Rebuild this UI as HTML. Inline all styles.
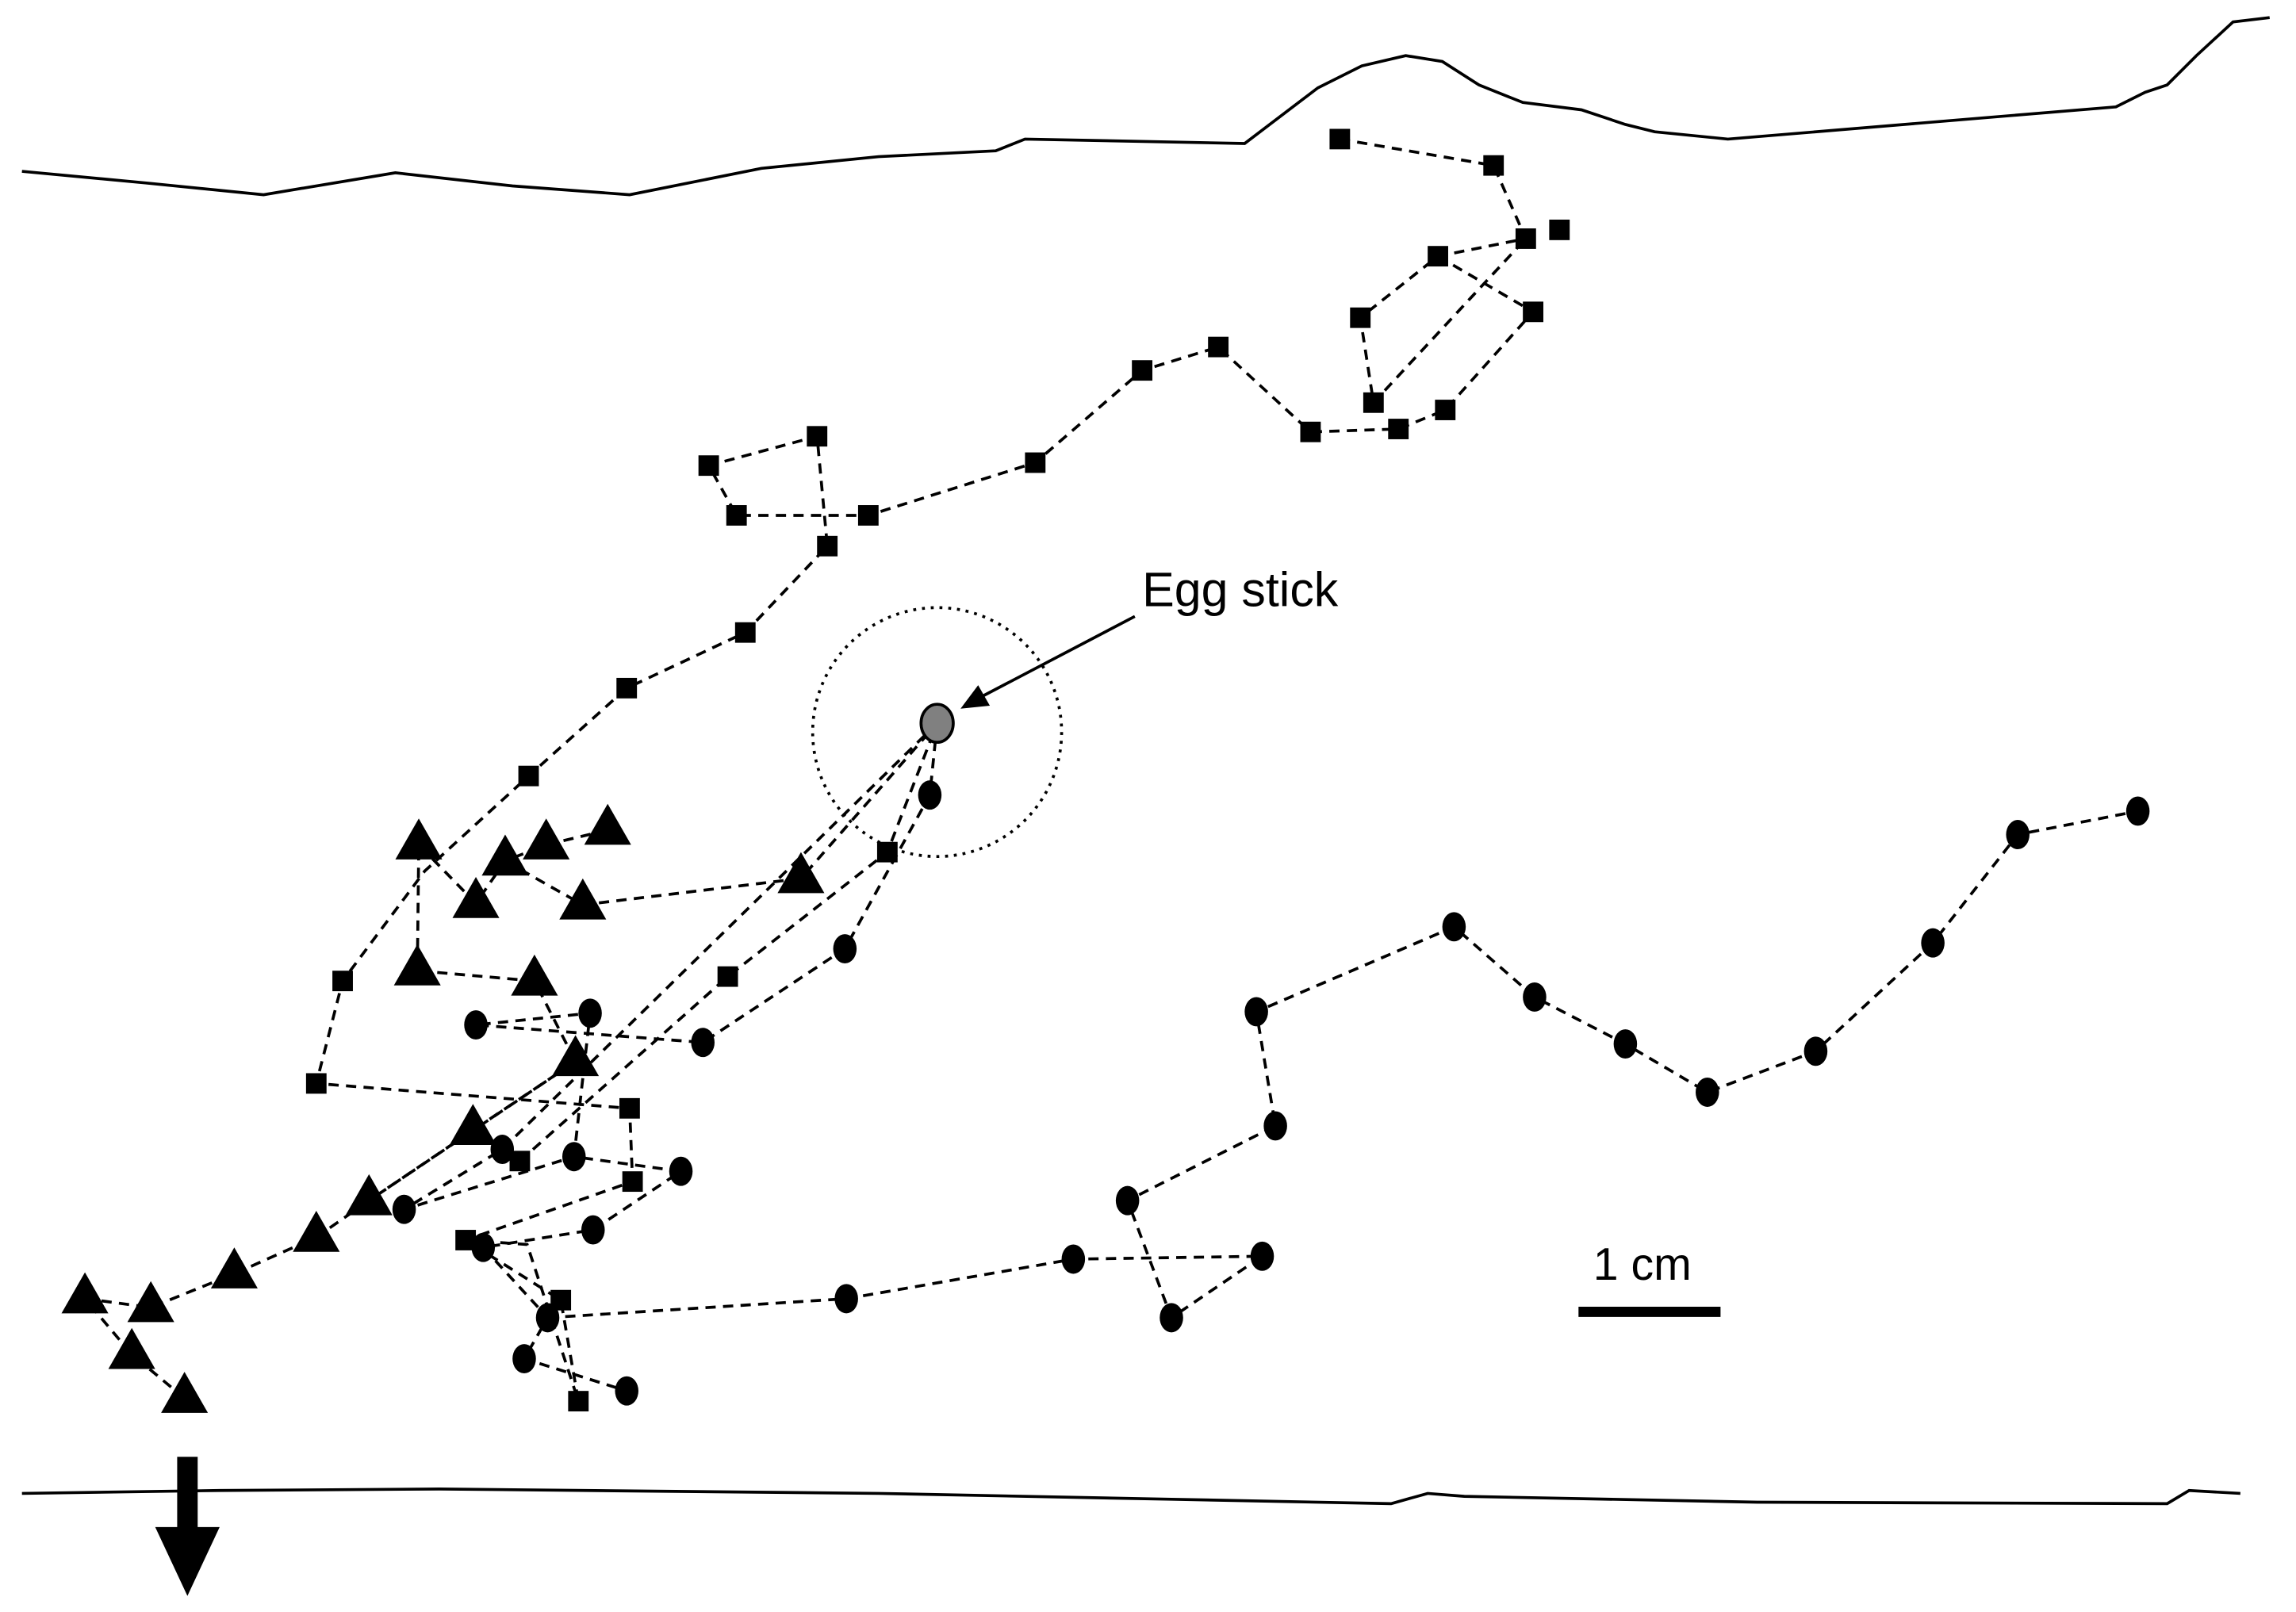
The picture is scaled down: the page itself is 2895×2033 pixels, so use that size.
<!DOCTYPE html>
<html><head><meta charset="utf-8"><style>
html,body{margin:0;padding:0;background:#fff;}
svg{display:block}
</style></head><body>
<svg width="2895" height="2033" viewBox="0 0 1568 1101" preserveAspectRatio="none" xmlns="http://www.w3.org/2000/svg">
<g fill="none" stroke="#000" stroke-width="2">
<polyline points="15,117 100,125 180,133 270,118 350,127 430,133 520,115 600,107 680,103 700,95 850,98 900,60 930,45 960,38 985,42 1010,58 1040,70 1080,75 1110,85 1130,90 1180,95 1445,73 1465,63 1480,58 1500,38 1525,15 1550,12"/>
<polyline points="15,1020 150,1018 300,1017 600,1020 800,1024 950,1027 975,1020 1000,1022 1200,1026 1480,1027 1495,1018 1530,1020"/>
</g>
<g fill="none" stroke="#000" stroke-width="2" stroke-dasharray="7,5">
<polyline points="915,95 1020,113 1042,163 982,175 929,217 938,275 1042,163"/>
<polyline points="982,175 1047,213 987,280 955,293 895,295 832,237 780,253 707,316 593,352 503,352 484,318 558,298 565,373 509,432 428,470 361,530 290,595 234,670 216,740 430,757 432,807 318,847 383,888 395,957 360,850 318,847"/>
<polyline points="355,793 497,667 606,582 640,494"/>
<polyline points="640,494 635,543 577,648 480,712 325,700 403,692 392,790 465,800 405,840 330,852 374,900 358,928 428,950"/>
<polyline points="640,494 343,785 276,826 392,790"/>
<polyline points="374,900 578,887 733,860 862,858 800,900 770,820 871,769 858,691 993,633 1048,681 1110,713 1166,746 1240,718 1320,644 1378,570 1460,554"/>
<polyline points="415,567 373,577 345,588 325,617 286,577 285,663 365,670 393,725 323,772 252,820 216,845 160,870 103,893 58,887 90,925 126,955"/>
<polyline points="345,588 398,618 547,600 640,494"/>
<polyline points="393,725 252,820"/>
</g>
<circle cx="640" cy="500" r="85" fill="none" stroke="#000" stroke-width="2" stroke-dasharray="2,4"/>
<g fill="#000">
<rect x="908" y="88" width="14" height="14"/><rect x="1013" y="106" width="14" height="14"/><rect x="1035" y="156" width="14" height="14"/><rect x="1058" y="150" width="14" height="14"/><rect x="975" y="168" width="14" height="14"/><rect x="922" y="210" width="14" height="14"/><rect x="1040" y="206" width="14" height="14"/><rect x="931" y="268" width="14" height="14"/><rect x="980" y="273" width="14" height="14"/><rect x="948" y="286" width="14" height="14"/><rect x="888" y="288" width="14" height="14"/><rect x="825" y="230" width="14" height="14"/><rect x="773" y="246" width="14" height="14"/><rect x="700" y="309" width="14" height="14"/><rect x="586" y="345" width="14" height="14"/><rect x="496" y="345" width="14" height="14"/><rect x="477" y="311" width="14" height="14"/><rect x="551" y="291" width="14" height="14"/><rect x="558" y="366" width="14" height="14"/><rect x="502" y="425" width="14" height="14"/><rect x="421" y="463" width="14" height="14"/><rect x="354" y="523" width="14" height="14"/><rect x="227" y="663" width="14" height="14"/><rect x="209" y="733" width="14" height="14"/><rect x="423" y="750" width="14" height="14"/><rect x="425" y="800" width="14" height="14"/><rect x="311" y="840" width="14" height="14"/><rect x="376" y="881" width="14" height="14"/><rect x="388" y="950" width="14" height="14"/><rect x="348" y="786" width="14" height="14"/><rect x="490" y="660" width="14" height="14"/><rect x="599" y="575" width="14" height="14"/>
<ellipse cx="635" cy="543" rx="8" ry="10"/><ellipse cx="577" cy="648" rx="8" ry="10"/><ellipse cx="480" cy="712" rx="8" ry="10"/><ellipse cx="325" cy="700" rx="8" ry="10"/><ellipse cx="403" cy="692" rx="8" ry="10"/><ellipse cx="392" cy="790" rx="8" ry="10"/><ellipse cx="465" cy="800" rx="8" ry="10"/><ellipse cx="405" cy="840" rx="8" ry="10"/><ellipse cx="330" cy="852" rx="8" ry="10"/><ellipse cx="374" cy="900" rx="8" ry="10"/><ellipse cx="358" cy="928" rx="8" ry="10"/><ellipse cx="428" cy="950" rx="8" ry="10"/><ellipse cx="343" cy="785" rx="8" ry="10"/><ellipse cx="276" cy="826" rx="8" ry="10"/><ellipse cx="578" cy="887" rx="8" ry="10"/><ellipse cx="733" cy="860" rx="8" ry="10"/><ellipse cx="862" cy="858" rx="8" ry="10"/><ellipse cx="800" cy="900" rx="8" ry="10"/><ellipse cx="770" cy="820" rx="8" ry="10"/><ellipse cx="871" cy="769" rx="8" ry="10"/><ellipse cx="858" cy="691" rx="8" ry="10"/><ellipse cx="993" cy="633" rx="8" ry="10"/><ellipse cx="1048" cy="681" rx="8" ry="10"/><ellipse cx="1110" cy="713" rx="8" ry="10"/><ellipse cx="1166" cy="746" rx="8" ry="10"/><ellipse cx="1240" cy="718" rx="8" ry="10"/><ellipse cx="1320" cy="644" rx="8" ry="10"/><ellipse cx="1378" cy="570" rx="8" ry="10"/><ellipse cx="1460" cy="554" rx="8" ry="10"/>
</g>
<g fill="#000">
<path d="M286,559 l16,28 h-32z"/><path d="M345,570 l16,28 h-32z"/><path d="M373,559 l16,28 h-32z"/><path d="M415,549 l16,28 h-32z"/><path d="M325,599 l16,28 h-32z"/><path d="M398,600 l16,28 h-32z"/><path d="M547,582 l16,28 h-32z"/><path d="M285,645 l16,28 h-32z"/><path d="M365,652 l16,28 h-32z"/><path d="M393,707 l16,28 h-32z"/><path d="M323,754 l16,28 h-32z"/><path d="M252,802 l16,28 h-32z"/><path d="M216,827 l16,28 h-32z"/><path d="M160,852 l16,28 h-32z"/><path d="M103,875 l16,28 h-32z"/><path d="M58,869 l16,28 h-32z"/><path d="M90,907 l16,28 h-32z"/><path d="M126,937 l16,28 h-32z"/>
</g>
<ellipse cx="640" cy="494" rx="11" ry="13" fill="#808080" stroke="#000" stroke-width="2"/>
<line x1="775" y1="421" x2="670" y2="476" stroke="#000" stroke-width="2"/>
<path d="M656,484 l12,-16 l8,14z" fill="#000"/>
<text x="780" y="414" font-family="Liberation Sans, sans-serif" font-size="33">Egg stick</text>
<line x1="1078" y1="896" x2="1175" y2="896" stroke="#000" stroke-width="7"/>
<text x="1088" y="874" font-family="Liberation Sans, sans-serif" font-size="31">1 cm</text>
<rect x="121" y="995" width="14" height="50" fill="#000"/>
<path d="M106,1043 h44 l-22,47z" fill="#000"/>
</svg>
</body></html>
